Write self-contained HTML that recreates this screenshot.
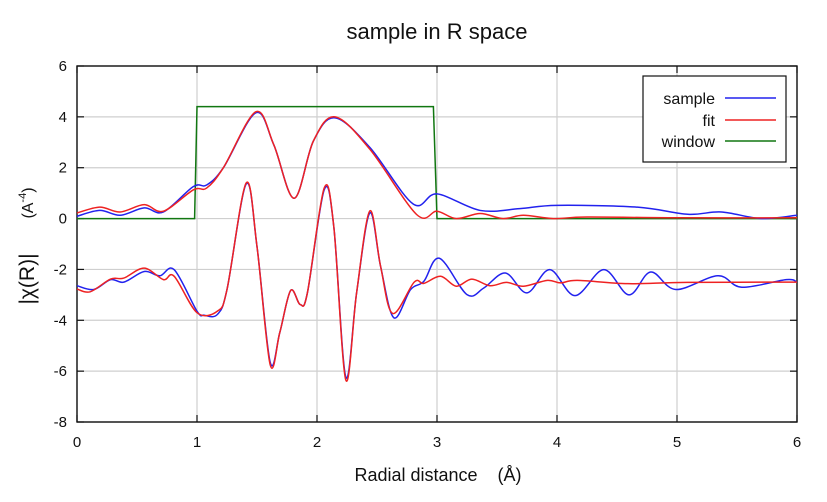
<!DOCTYPE html>
<html><head><meta charset="utf-8"><style>
body{margin:0;background:#fff;}
svg text{font-family:"Liberation Sans",sans-serif;fill:#111;}
</style></head><body>
<svg id="chart" width="827" height="497" xmlns="http://www.w3.org/2000/svg">
<rect width="827" height="497" fill="#fff"/>
<text x="437" y="39" font-size="22" text-anchor="middle">sample in R space</text>
<g id="grid"></g>
<g id="axes"></g>
<g id="series"></g>
<text x="438" y="481" font-size="18" text-anchor="middle">Radial distance &#160;&#160;&#160;(Å)</text>
<text transform="translate(34,279) rotate(-90)" font-size="21" text-anchor="middle">|χ(R)|</text>
<text transform="translate(33,203) rotate(-90)" font-size="16" text-anchor="middle">(A<tspan font-size="11" dy="-7">-4</tspan><tspan dy="7">)</tspan></text>
<g>
<rect x="643" y="76" width="143" height="86" fill="#fff" stroke="#111" stroke-width="1.2"/>
<text x="715" y="104" font-size="16" text-anchor="end">sample</text>
<line x1="725" y1="98" x2="776" y2="98" stroke="#2222ee" stroke-width="1.5"/>
<text x="715" y="126" font-size="16" text-anchor="end">fit</text>
<line x1="725" y1="120" x2="776" y2="120" stroke="#ee2222" stroke-width="1.5"/>
<text x="715" y="147" font-size="16" text-anchor="end">window</text>
<line x1="725" y1="141" x2="776" y2="141" stroke="#117711" stroke-width="1.5"/>
</g>
</svg>
<script>
const xTicks=[0,1,2,3,4,5,6];
const yTicks=[-8,-6,-4,-2,0,2,4,6];
const magSampleR=[0,0.19,0.36,0.56,0.72,0.97,1.08,1.22,1.49,1.64,1.81,1.97,2.15,2.44,2.8,3.0,3.36,3.69,4.0,4.67,5.09,5.37,5.7,6.0];
const magSampleV=[0.09,0.32,0.13,0.42,0.26,1.26,1.32,2.0,4.16,2.9,0.8,3.05,3.96,2.8,0.58,0.97,0.32,0.39,0.52,0.45,0.17,0.26,0.0,0.13];
const magFitR=[0,0.19,0.36,0.56,0.72,0.97,1.08,1.22,1.49,1.64,1.81,1.97,2.15,2.44,2.83,3.0,3.16,3.36,3.55,3.72,3.97,4.25,5.0,6.0];
const magFitV=[0.22,0.45,0.26,0.55,0.29,1.13,1.2,2.0,4.2,2.9,0.8,3.05,4.0,2.73,0.16,0.29,0.0,0.2,0.0,0.13,0.0,0.06,0.03,0.03];
const reSampleR=[0,0.14,0.28,0.39,0.56,0.69,0.81,1.0,1.06,1.17,1.25,1.41,1.5,1.61,1.69,1.78,1.86,1.92,2.06,2.14,2.24,2.33,2.44,2.53,2.64,2.78,2.89,3.02,3.25,3.39,3.57,3.75,3.94,4.15,4.39,4.6,4.78,4.99,5.34,5.54,5.91,6.0];
const reSampleV=[-2.64,-2.79,-2.4,-2.5,-2.08,-2.25,-2.01,-3.64,-3.8,-3.77,-2.79,1.36,-1.1,-5.65,-4.48,-2.83,-3.38,-2.92,1.13,-0.32,-6.23,-2.92,0.22,-1.88,-3.9,-2.79,-2.47,-1.56,-2.99,-2.73,-2.14,-2.92,-2.01,-3.03,-2.01,-3.0,-2.1,-2.79,-2.25,-2.7,-2.4,-2.5];
const reFitR=[0,0.11,0.28,0.39,0.56,0.72,0.81,1.0,1.17,1.25,1.41,1.5,1.61,1.69,1.78,1.86,1.92,2.06,2.14,2.24,2.33,2.44,2.53,2.63,2.81,2.89,3.03,3.16,3.29,3.44,3.58,3.72,3.92,4.03,4.17,4.59,5.09,6.0];
const reFitV=[-2.77,-2.88,-2.38,-2.34,-1.95,-2.4,-2.27,-3.7,-3.64,-2.79,1.4,-1.1,-5.75,-4.48,-2.83,-3.38,-2.92,1.2,-0.32,-6.35,-2.92,0.3,-1.88,-3.73,-2.5,-2.55,-2.27,-2.66,-2.38,-2.64,-2.51,-2.66,-2.43,-2.53,-2.43,-2.56,-2.51,-2.5];
const windowR=[0,0.98,1.0,2.97,3.0,6.0];
const windowV=[0,0,4.4,4.4,0,0];

const X0=77,X1=797,Y0=422,Y1=66;
const sx=r=>X0+(r-0)/(6-0)*(X1-X0);
const sy=v=>Y0-(v-(-8))/(6-(-8))*(Y0-Y1);
const NS="http://www.w3.org/2000/svg";
const grid=document.getElementById('grid'),axes=document.getElementById('axes'),series=document.getElementById('series');
function mk(tag,attrs,parent){const e=document.createElementNS(NS,tag);for(const k in attrs)e.setAttribute(k,attrs[k]);parent.appendChild(e);return e;}
xTicks.forEach(t=>{
  const g=mk('line',{x1:sx(t),x2:sx(t),y1:Y1,y2:Y0,stroke:'#cfcfcf','stroke-width':1.2},grid);
  
  
  const tk=mk('line',{x1:sx(t),x2:sx(t),y1:Y0,y2:Y0-7,stroke:'#111','stroke-width':1.2},axes);
  
  
  const tk2=mk('line',{x1:sx(t),x2:sx(t),y1:Y1,y2:Y1+7,stroke:'#111','stroke-width':1.2},axes);
  
  
  const tx=mk('text',{x:sx(t),y:447,'font-size':15,'text-anchor':'middle'},axes);
  tx.textContent=t;
  
  
});
yTicks.forEach(t=>{
  const g=mk('line',{x1:X0,x2:X1,y1:sy(t),y2:sy(t),stroke:'#cfcfcf','stroke-width':1.2},grid);
  
  
  const tk=mk('line',{x1:X0,x2:X0+7,y1:sy(t),y2:sy(t),stroke:'#111','stroke-width':1.2},axes);
  
  
  const tk2=mk('line',{x1:X1,x2:X1-7,y1:sy(t),y2:sy(t),stroke:'#111','stroke-width':1.2},axes);
  
  
  const tx=mk('text',{x:67,y:sy(t)+5,'font-size':15,'text-anchor':'end'},axes);
  tx.textContent=t;
  
  
});
const fr=mk('rect',{x:X0,y:Y1,width:X1-X0,height:Y0-Y1,fill:'none',stroke:'#111','stroke-width':1.4},axes);


function smooth(R,V){
  const p=R.map((r,i)=>[sx(r),sy(V[i])]);
  let d='M'+p[0][0]+','+p[0][1];
  for(let i=0;i<p.length-1;i++){
    const a=p[Math.max(i-1,0)],b=p[i],c=p[i+1],e=p[Math.min(i+2,p.length-1)];
    const c1=[b[0]+(c[0]-a[0])/6,b[1]+(c[1]-a[1])/6],c2=[c[0]-(e[0]-b[0])/6,c[1]-(e[1]-b[1])/6];
    d+=' C'+c1[0]+','+c1[1]+' '+c2[0]+','+c2[1]+' '+c[0]+','+c[1];
  }
  return d;
}
function poly(R,V){return R.map((r,i)=>(i?'L':'M')+sx(r)+','+sy(V[i])).join(' ');}
const w=mk('path',{d:poly(windowR,windowV),fill:'none',stroke:'#117711','stroke-width':1.5},series);


const s1=mk('path',{d:smooth(magSampleR,magSampleV),fill:'none',stroke:'#2222ee','stroke-width':1.5},series);


const s2=mk('path',{d:smooth(reSampleR,reSampleV),fill:'none',stroke:'#2222ee','stroke-width':1.5},series);


const f1=mk('path',{d:smooth(magFitR,magFitV),fill:'none',stroke:'#ee2222','stroke-width':1.5},series);


const f2=mk('path',{d:smooth(reFitR,reFitV),fill:'none',stroke:'#ee2222','stroke-width':1.5},series);


</script>
</body></html>
